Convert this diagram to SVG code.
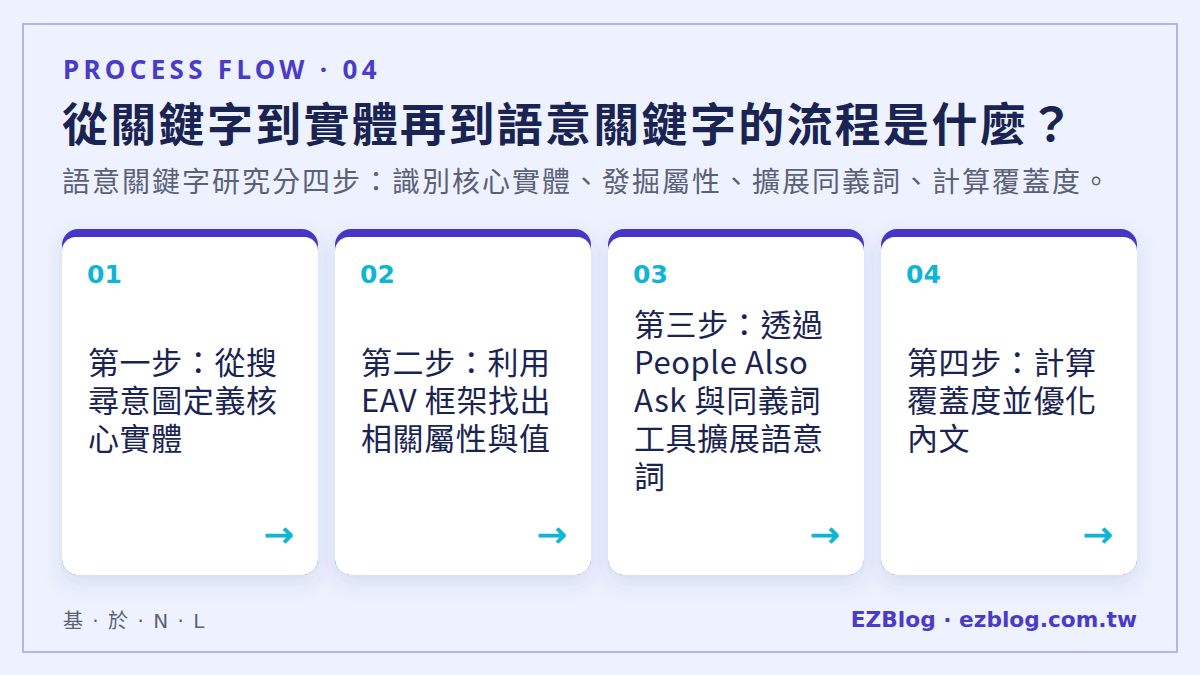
<svg xmlns="http://www.w3.org/2000/svg" width="1200" height="675" viewBox="0 0 1200 675">
<defs>
<filter id="sh" x="-20%" y="-20%" width="140%" height="140%">
<feDropShadow dx="0" dy="8" stdDeviation="10" flood-color="#3b4a9a" flood-opacity="0.13"/>
</filter>
<clipPath id="c1"><rect x="62" y="229" width="256" height="346" rx="16"/></clipPath>
<clipPath id="c2"><rect x="335" y="229" width="256" height="346" rx="16"/></clipPath>
<clipPath id="c3"><rect x="608" y="229" width="256" height="346" rx="16"/></clipPath>
<clipPath id="c4"><rect x="881" y="229" width="256" height="346" rx="16"/></clipPath>
</defs>
<style>
.cjk{font-family:"Noto Sans CJK TC","Noto Sans CJK SC",sans-serif}
.eyebrow{font-family:"Noto Sans","Noto Sans CJK TC",sans-serif;font-weight:700;font-size:26px;letter-spacing:4.3px;fill:#4a3bc8}
.title{font-weight:700;font-size:46px;letter-spacing:2.3px;fill:#1a2452}
.sub{font-size:28px;letter-spacing:2px;fill:#5b6178}
.card{fill:#ffffff}
.bar{fill:#4636c8}
.num{font-family:"DejaVu Sans",sans-serif;font-weight:700;font-size:25px;fill:#0fb5d3}
.body{font-size:31px;letter-spacing:0.6px;fill:#1a2452}
.arrow{font-family:"DejaVu Sans",sans-serif;font-size:36px;fill:#0fb5d3;stroke:#0fb5d3;stroke-width:0.8}
.foot{font-family:"DejaVu Sans","Noto Sans CJK TC",sans-serif;font-size:20px;letter-spacing:1.5px;fill:#5b6178}
.brand{font-family:"DejaVu Sans",sans-serif;font-weight:700;font-size:21.7px;fill:#4a3bc8}
</style>
<rect x="0" y="0" width="1200" height="675" fill="#eef2fe"/>
<rect x="23" y="24" width="1154" height="628" fill="#eef2fe" stroke="#b3b5ea" stroke-width="2"/>
<text class="eyebrow" x="63" y="79">PROCESS FLOW · 04</text>
<text class="cjk title" x="62" y="141">從關鍵字到實體再到語意關鍵字的流程是什麼？</text>
<text class="cjk sub" x="62" y="192">語意關鍵字研究分四步：識別核心實體、發掘屬性、擴展同義詞、計算覆蓋度。</text>

<g id="step1">
<rect class="bar" x="62" y="229" width="256" height="346" rx="16" filter="url(#sh)"/>
<rect class="card" x="62" y="237" width="256" height="338" rx="14" clip-path="url(#c1)"/>
<text class="num" x="87" y="283">01</text>
<text class="cjk body" x="88"><tspan x="88" y="374">第一步：從搜</tspan><tspan x="88" y="412">尋意圖定義核</tspan><tspan x="88" y="450">心實體</tspan></text>
<text class="arrow" x="294" y="547" text-anchor="end">→</text>
</g>
<g id="step2">
<rect class="bar" x="335" y="229" width="256" height="346" rx="16" filter="url(#sh)"/>
<rect class="card" x="335" y="237" width="256" height="338" rx="14" clip-path="url(#c2)"/>
<text class="num" x="360" y="283">02</text>
<text class="cjk body" x="361"><tspan x="361" y="374">第二步：利用</tspan><tspan x="361" y="412">EAV 框架找出</tspan><tspan x="361" y="450">相關屬性與值</tspan></text>
<text class="arrow" x="567" y="547" text-anchor="end">→</text>
</g>
<g id="step3">
<rect class="bar" x="608" y="229" width="256" height="346" rx="16" filter="url(#sh)"/>
<rect class="card" x="608" y="237" width="256" height="338" rx="14" clip-path="url(#c3)"/>
<text class="num" x="633" y="283">03</text>
<text class="cjk body" x="634"><tspan x="634" y="336">第三步：透過</tspan><tspan x="634" y="374">People Also</tspan><tspan x="634" y="412">Ask 與同義詞</tspan><tspan x="634" y="450">工具擴展語意</tspan><tspan x="634" y="488">詞</tspan></text>
<text class="arrow" x="840" y="547" text-anchor="end">→</text>
</g>
<g id="step4">
<rect class="bar" x="881" y="229" width="256" height="346" rx="16" filter="url(#sh)"/>
<rect class="card" x="881" y="237" width="256" height="338" rx="14" clip-path="url(#c4)"/>
<text class="num" x="906" y="283">04</text>
<text class="cjk body" x="907"><tspan x="907" y="374">第四步：計算</tspan><tspan x="907" y="412">覆蓋度並優化</tspan><tspan x="907" y="450">內文</tspan></text>
<text class="arrow" x="1113" y="547" text-anchor="end">→</text>
</g>
<g id="connectors"></g>
<text class="foot" x="63" y="628">基 · 於 · N · L</text>
<text class="brand" x="1137" y="627" text-anchor="end">EZBlog · ezblog.com.tw</text>
</svg>
